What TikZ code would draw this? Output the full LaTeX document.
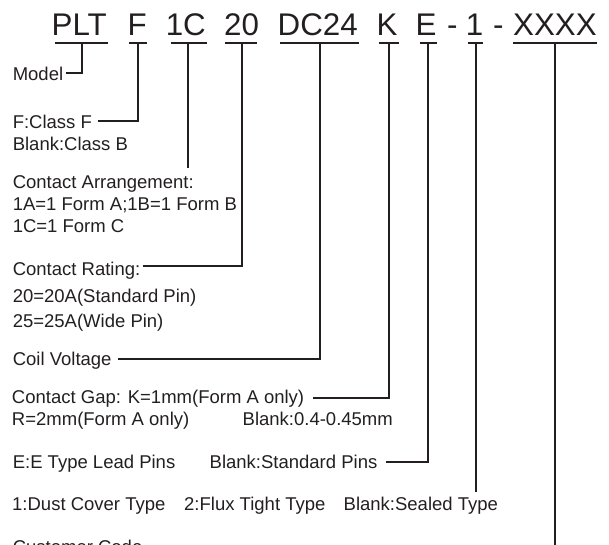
\documentclass[tikz,border=0pt]{standalone}
\usepackage{fontspec}
\setmainfont{Liberation Sans}
\definecolor{ink}{HTML}{231F20}
\begin{document}
\begin{tikzpicture}[x=1pt,y=-1pt,
  code/.style={anchor=base west,inner sep=0pt,text=ink,font=\fontsize{31.3}{36}\selectfont},
  lbl/.style={anchor=base west,inner sep=0pt,text=ink,font=\fontsize{18.5}{22}\selectfont},
  wire/.style={draw=ink,line width=1.1pt},
  uline/.style={draw=ink,line width=1.2pt}]
\useasboundingbox (0,0) rectangle (609,544);
\clip (0,0) rectangle (609,544);
% title parts
\node[code] (pPLT) at (51.5,35) {PLT};
\node[code] (pF) at (127.5,35) {F};
\node[code] (p1C) at (165.6,35) {1C};
\node[code] (p20) at (224,35) {20};
\node[code] (pDC) at (277.5,35) {DC24};
\node[code] (pK) at (376.5,35) {K};
\node[code] (pE) at (415.5,35) {E};
\node[code] (d1) at (447,35) {-};
\node[code] (p1) at (465.6,35) {1};
\node[code] (d2) at (493,35) {-};
\node[code] (pX) at (513,35) {XXXX};
% underlines
\draw[uline] (55,43) -- (108,43);
\draw[uline] (129,43) -- (147,43);
\draw[uline] (171,43) -- (207,43);
\draw[uline] (225,43) -- (257,43);
\draw[uline] (280,43) -- (359,43);
\draw[uline] (379,43) -- (399,43);
\draw[uline] (420,43) -- (437,43);
\draw[uline] (468,43) -- (483,43);
\draw[uline] (513,43) -- (597,43);
% anchor coordinates on underlines
\coordinate (uPLT) at (82,43);
\coordinate (uF) at (138,43);
\coordinate (u1C) at (188,43);
\coordinate (u20) at (242,43);
\coordinate (uDC) at (320,43);
\coordinate (uK) at (389,43);
\coordinate (uE) at (428,43);
\coordinate (u1) at (476,43);
\coordinate (uX) at (555,43);
% labels
\node[lbl] (model) at (12.6,80) {Model};
\node[lbl] (classF) at (12.6,128) {F:Class F};
\node[lbl] (classB) at (12.6,150) {Blank:Class B};
\node[lbl] (arr) at (12.6,188) {Contact Arrangement:};
\node[lbl] (arr2) at (12.6,210) {1A=1 Form A;1B=1 Form B};
\node[lbl] (arr3) at (12.6,232) {1C=1 Form C};
\node[lbl] (rate) at (12.6,275) {Contact Rating:};
\node[lbl] (rate2) at (12.6,302) {20=20A(Standard Pin)};
\node[lbl] (rate3) at (12.6,327) {25=25A(Wide Pin)};
\node[lbl] (coil) at (12.6,365) {Coil Voltage};
\node[lbl] (gap) at (11.8,403) {Contact Gap: K=1mm(Form A only)};
\node[lbl] (gap2) at (11.8,425) {R=2mm(Form A only)};
\node[lbl] (gap3) at (242.5,425) {Blank:0.4-0.45mm};
\node[lbl] (lead) at (12.6,468) {E:E Type Lead Pins};
\node[lbl] (lead2) at (209.5,468) {Blank:Standard Pins};
\node[lbl] (cov) at (12,510) {1:Dust Cover Type};
\node[lbl] (cov2) at (184,510) {2:Flux Tight Type};
\node[lbl] (cov3) at (343.5,510) {Blank:Sealed Type};
\node[lbl] (cust) at (12.6,553) {Customer Code};
% connectors
\coordinate (eModel) at (66,73);
\coordinate (eF) at (98,121);
\coordinate (e1C) at (188,168);
\coordinate (e20) at (143,266);
\coordinate (eDC) at (118,359);
\coordinate (eK) at (313,398);
\coordinate (eE) at (386,462);
\coordinate (e1) at (476,492);
\coordinate (eX) at (555,550);
\draw[wire] (uPLT) |- (eModel);
\draw[wire] (uF) |- (eF);
\draw[wire] (u1C) -- (e1C);
\draw[wire] (u20) |- (e20);
\draw[wire] (uDC) |- (eDC);
\draw[wire] (uK) |- (eK);
\draw[wire] (uE) |- (eE);
\draw[wire] (u1) -- (e1);
\draw[wire] (uX) -- (eX);
\end{tikzpicture}
\end{document}
